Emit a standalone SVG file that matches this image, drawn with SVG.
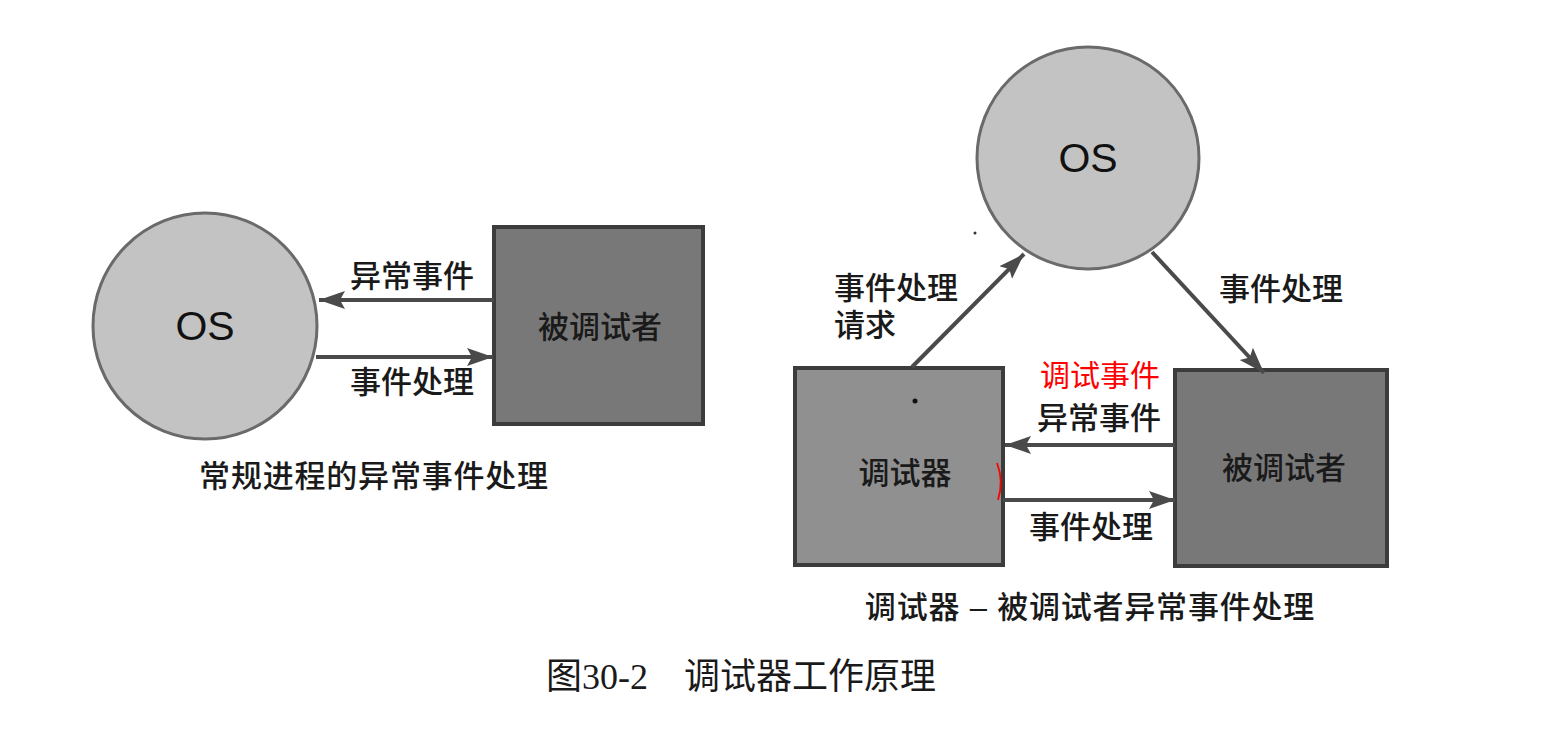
<svg xmlns="http://www.w3.org/2000/svg" width="1546" height="746" viewBox="0 0 1546 746">
<defs>
<marker id="ah" markerUnits="userSpaceOnUse" markerWidth="28" markerHeight="20" refX="26" refY="10" orient="auto">
<path d="M0,1 L26,10 L0,19 L5,10 Z" fill="#4a4a4a"/>
</marker>
</defs>
<style>
.lbl{font-family:"Liberation Sans","Noto Sans CJK SC",sans-serif;font-size:31px;font-weight:500;fill:#1a1a1a}
.os{font-family:"Liberation Sans","Noto Sans CJK SC",sans-serif;font-size:41px;fill:#111}
.circ{fill:#c3c3c3;stroke:#6a6a6a;stroke-width:3}
.boxd{fill:#787878;stroke:#3c3c3c;stroke-width:4}
.boxl{fill:#909090;stroke:#3c3c3c;stroke-width:4}
.conn{stroke:#4a4a4a;stroke-width:4;fill:none;marker-end:url(#ah)}
.red{font-family:"Noto Sans CJK SC",sans-serif;font-size:30px;fill:#ff0000}
.cap{font-family:"Liberation Serif","Noto Sans CJK SC",serif;font-size:36px;fill:#1a1a1a}
</style>
<rect width="1546" height="746" fill="#ffffff"/>
<g id="os-left">
<ellipse class="circ" cx="205" cy="326" rx="112" ry="113"/>
<text class="os" x="205" y="340" text-anchor="middle">OS</text>
</g>
<g id="debuggee-left">
<rect class="boxd" x="494" y="227" width="209" height="197"/>
<text class="lbl" x="600" y="338" text-anchor="middle">被调试者</text>
</g>
<g id="os-right">
<circle class="circ" cx="1088" cy="158" r="111"/>
<text class="os" x="1088" y="172" text-anchor="middle">OS</text>
</g>
<g id="debugger">
<rect class="boxl" x="795" y="368" width="208" height="197"/>
<text class="lbl" x="905" y="484" text-anchor="middle">调试器</text>
<circle cx="915" cy="401" r="2.5" fill="#111"/>
</g>
<g id="debuggee-right">
<rect class="boxd" x="1175" y="370" width="212" height="196"/>
<text class="lbl" x="1284" y="479" text-anchor="middle">被调试者</text>
</g>
<g id="connectors">
<line class="conn" x1="494" y1="300" x2="319" y2="300"/>
<line class="conn" x1="316" y1="357" x2="493" y2="357"/>
<line class="conn" x1="912" y1="367" x2="1024" y2="254"/>
<line class="conn" x1="1152" y1="252" x2="1264" y2="373"/>
<line class="conn" x1="1175" y1="445" x2="1005" y2="445"/>
<line class="conn" x1="1003" y1="500" x2="1175" y2="500"/>
</g>
<g id="labels">
<text class="lbl" x="412" y="287" text-anchor="middle">异常事件</text>
<text class="lbl" x="412" y="393" text-anchor="middle">事件处理</text>
<text class="lbl" x="834" y="299">事件处理</text>
<text class="lbl" x="834" y="336">请求</text>
<text class="lbl" x="1219" y="300">事件处理</text>
<text class="red" x="1100" y="386" text-anchor="middle">调试事件</text>
<text class="lbl" x="1099" y="429" text-anchor="middle">异常事件</text>
<text class="lbl" x="1091" y="538" text-anchor="middle">事件处理</text>
<path d="M997,463 Q1004,481 998,500" stroke="#ff0000" stroke-width="1.8" fill="none"/>
<circle cx="975" cy="233" r="1.5" fill="#333"/>
</g>
<g id="captions">
<text class="lbl" x="374" y="487" text-anchor="middle" letter-spacing="0.8">常规进程的异常事件处理</text>
<text class="lbl" x="1090" y="618" text-anchor="middle" letter-spacing="0.8">调试器 – 被调试者异常事件处理</text>
<text class="cap" x="546" y="689">图30-2</text>
<text class="cap" x="684" y="689">调试器工作原理</text>
</g>
</svg>
